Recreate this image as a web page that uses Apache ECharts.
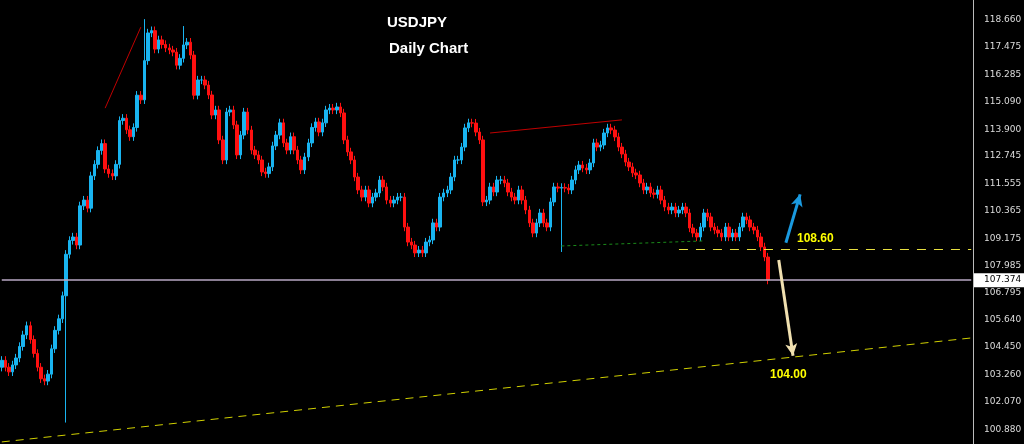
<!DOCTYPE html>
<html>
<head>
<meta charset="UTF-8">
<script src="https://cdn.jsdelivr.net/npm/echarts@6/dist/echarts.min.js"></script>
<style>html,body{margin:0;background:#000}</style>
</head>
<body>
<div id="main" style="width:1024px;height:444px"></div>
<script>
// daily closes (open = previous close)
var closes = [
  103.9,103.6,103.4,103.7,104.0,104.5,105.0,105.4,104.8,104.2,103.6,103.1,103.0,103.3,104.4,105.2,105.7,106.7,108.5,
  109.1,109.25,108.9,110.6,110.85,110.5,111.9,112.4,113.0,113.3,112.2,112.0,111.9,112.4,114.3,114.4,113.9,113.6,114.0,
  115.4,115.2,116.9,118.1,118.2,117.4,117.8,117.6,117.45,117.36,117.27,116.7,117.0,117.58,117.7,117.14,115.4,116.06,
  116.06,115.84,115.41,114.54,114.76,113.46,112.59,114.67,114.76,114.11,112.81,113.67,114.67,113.89,113.02,112.81,112.59,112.07,
  112.0,112.29,113.2,113.67,114.2,113.33,113.02,113.6,113.02,112.59,112.16,112.72,113.33,114.0,114.24,113.8,114.2,114.76,
  114.84,114.76,114.89,114.63,113.46,112.94,112.59,111.85,111.29,110.98,111.29,110.72,110.98,111.16,111.72,111.42,110.85,
  110.72,110.85,110.98,110.98,109.68,109.03,108.9,108.56,108.68,108.56,109.03,109.12,109.86,109.68,110.98,111.16,111.29,
  111.85,112.59,112.59,113.15,113.98,114.2,114.19,113.8,113.46,110.77,110.85,111.42,111.2,111.72,
  111.72,111.59,111.2,110.98,110.85,111.29,110.85,110.42,109.86,109.42,109.86,110.29,109.86,109.68,110.77,111.42,111.37,
  111.4,111.37,111.29,111.72,112.16,112.37,112.24,112.16,112.46,113.33,113.15,113.24,113.76,113.98,113.89,113.59,113.15,
  112.85,112.5,112.29,112.03,111.94,111.59,111.29,111.42,111.16,111.1,111.29,110.85,110.55,110.42,110.55,110.29,110.42,
  110.55,110.29,109.64,109.42,109.25,109.68,110.29,110.12,109.68,109.55,109.42,109.25,109.68,109.25,109.42,109.25,109.68,
  110.12,109.99,109.68,109.55,109.25,108.82,108.38,107.38
];
var firstOpen = 103.6;
// a few wicks that stand out: index -> low / high
var longLows = {18: 101.2, 157: 108.6};
var longHighs = {40: 118.7, 51: 118.4};
var wick = 0.18;
var slots = 273;
var tickLabels = ['118.660','117.475','116.285','115.090','113.900','112.745','111.555','110.365',
  '109.175','107.985','106.795','105.640','104.450','103.260','102.070','100.880'];
var lastPrice = 107.374;

var cats = [], candles = [];
for (var i = 0; i < slots; i++) {
  cats.push(String(i));
  if (i < closes.length) {
    var o = i === 0 ? firstOpen : closes[i - 1], c = closes[i];
    var lo = longLows[i] !== undefined ? longLows[i] : Math.min(o, c) - wick;
    var hi = longHighs[i] !== undefined ? longHighs[i] : Math.max(o, c) + wick;
    candles.push([o, c, lo, hi]);
  } else candles.push('-');
}

var axMin = 100.27, axMax = 119.53;
var chart = echarts.init(document.getElementById('main'));
chart.setOption({
  backgroundColor: '#000',
  animation: false,
  grid: {left: 0, right: 51, top: 0, bottom: 0},
  title: [
    {text: 'USDJPY', left: 382, top: 10, textStyle: {color: '#fff', fontSize: 15, fontWeight: 'bold', fontFamily: 'Liberation Sans'}},
    {text: 'Daily Chart', left: 384, top: 36, textStyle: {color: '#fff', fontSize: 15, fontWeight: 'bold', fontFamily: 'Liberation Sans'}}
  ],
  xAxis: {type: 'category', data: cats, boundaryGap: true, show: false},
  yAxis: {
    type: 'value', position: 'right', min: axMin, max: axMax, scale: true,
    axisLine: {show: true, lineStyle: {color: '#bbb'}},
    axisTick: {show: false}, splitLine: {show: false},
    axisLabel: {show: false}
  },
  series: [{
    type: 'candlestick',
    data: candles,
    barWidth: 3,
    itemStyle: {color: '#19b4f0', color0: '#ff1010', borderColor: '#19b4f0', borderColor0: '#ff1010',
      borderColorDoji: '#19b4f0', borderWidth: 1},
    markLine: {
      silent: true, animation: false, symbol: ['none', 'none'],
      label: {show: false},
      data: [
        [{coord: [0, lastPrice], lineStyle: {color: '#b9a8c4', width: 1.5, type: 'solid'}}, {coord: [slots - 1, lastPrice]}],
        [{coord: [190, 108.7], lineStyle: {color: '#e8e040', width: 1, type: [9, 8]}}, {coord: [slots - 1, 108.7]}],
        [{coord: [0, 100.36], lineStyle: {color: '#d0d000', width: 1, type: [8, 6]}}, {coord: [slots - 1, 104.87]}],
        [{coord: [29, 114.84], lineStyle: {color: '#c00000', width: 1, type: 'solid'}}, {coord: [39, 118.35]}],
        [{coord: [137, 113.76], lineStyle: {color: '#c00000', width: 1, type: 'solid'}}, {coord: [174, 114.33]}],
        [{coord: [157, 108.86], lineStyle: {color: '#1a8a1a', width: 1, type: [3, 3]}}, {coord: [197, 109.08]}],
        [{coord: [219.5, 109.0], symbol: 'none', lineStyle: {color: '#1a9ae0', width: 3, type: 'solid'}}, {coord: [224, 111.1], symbol: 'arrow', symbolSize: [9, 12]}],
        [{coord: [217.5, 108.25], symbol: 'none', lineStyle: {color: '#f0e0b0', width: 3, type: 'solid'}}, {coord: [222.3, 104.1], symbol: 'arrow', symbolSize: [9, 12]}]
      ]
    }
  }]
});

// right price scale labels at their values
var g = [];
tickLabels.forEach(function (t) {
  var y = chart.convertToPixel({yAxisIndex: 0}, parseFloat(t));
  g.push({type: 'text', left: 984, top: y - 5, style: {text: t, fill: '#ddd', font: '9px "DejaVu Sans"'}});
});
var yl = chart.convertToPixel({yAxisIndex: 0}, lastPrice);
g.push({type: 'rect', shape: {x: 974, y: yl - 7, width: 50, height: 14}, style: {fill: '#fff'}});
g.push({type: 'text', left: 984, top: yl - 5, style: {text: '107.374', fill: '#000', font: '9px "DejaVu Sans"'}});
g.push({type: 'text', left: 797, top: 233, style: {text: '108.60', fill: '#ffff00', font: 'bold 12px "Liberation Sans"'}});
g.push({type: 'text', left: 770, top: 369, style: {text: '104.00', fill: '#ffff00', font: 'bold 12px "Liberation Sans"'}});
chart.setOption({graphic: g});
</script>
</body>
</html>
